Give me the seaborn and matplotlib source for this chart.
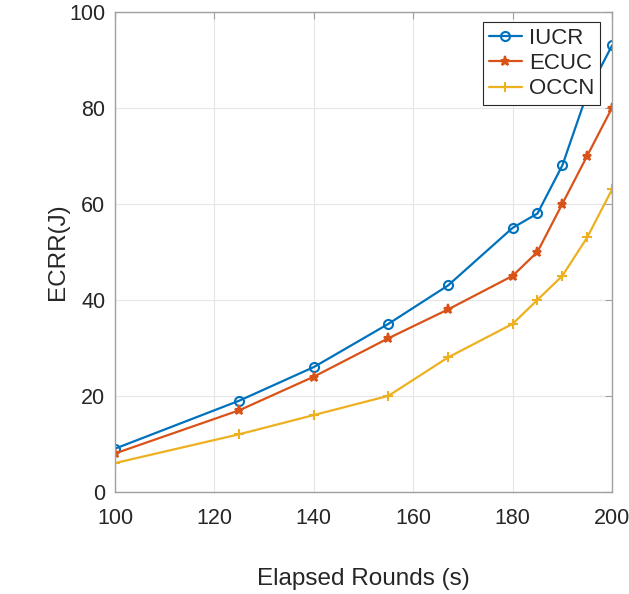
import matplotlib
matplotlib.use('Agg')
import matplotlib.pyplot as plt
import seaborn as sns
import pandas as pd

rounds = [100, 125, 140, 155, 167, 180, 185, 190, 195, 200]
iucr = [9, 19, 26, 35, 43, 55, 58, 68, 83, 93]
ecuc = [8, 17, 24, 32, 38, 45, 50, 60, 70, 80]
occn = [6, 12, 16, 20, 28, 35, 40, 45, 53, 63]

series = ['IUCR', 'ECUC', 'OCCN']
colors = ['#0072BD', '#D95319', '#EDB120']
markers = ['o', '*', '+']

df = pd.DataFrame({'Rounds': rounds * 3,
                   'ECRR': iucr + ecuc + occn,
                   'Method': sum([[s] * len(rounds) for s in series], [])})

sns.set_style('whitegrid')
plt.rcParams['font.family'] = ['Liberation Sans', 'DejaVu Sans']

fig = plt.figure(figsize=(6.29, 5.94), dpi=100)
ax = fig.add_axes([0.183, 0.172, 0.790, 0.808])

for name, c, m in zip(series, colors, markers):
    sub = df[df.Method == name]
    mfc = 'none' if m == 'o' else c
    sns.lineplot(data=sub, x='Rounds', y='ECRR', color=c, marker=m, markersize=6.5,
                 markerfacecolor=mfc, markeredgecolor=c, markeredgewidth=1.5,
                 linewidth=1.6, label=name, ax=ax)

ax.set_xlim(100, 200)
ax.set_ylim(0, 100)
ax.set_xticks(range(100, 201, 20))
ax.set_yticks(range(0, 101, 20))
ax.grid(True, color='#e6e6e6', linewidth=0.8)
for s in ax.spines.values():
    s.set_color('#a0a0a0')
    s.set_linewidth(1.0)
ax.tick_params(direction='in', length=5, color='#a0a0a0', labelsize=15.5,
               labelcolor='#262626', top=True, right=True)
ax.tick_params(axis='x', pad=12)
ax.tick_params(axis='y', pad=7)
ax.set_xlabel('Elapsed Rounds (s)', fontsize=17.5, color='#262626', labelpad=28)
ax.set_ylabel('ECRR(J)', fontsize=17.5, color='#262626', labelpad=0)

leg = ax.legend(loc='upper right', fontsize=16, frameon=True, fancybox=False,
                edgecolor='#262626', framealpha=1, borderpad=0.25, labelspacing=0.2,
                handlelength=1.5, handletextpad=0.3, borderaxespad=0,
                bbox_to_anchor=(0.975, 0.979))
leg.get_frame().set_linewidth(0.8)

fig.savefig('out.png', dpi=100)
